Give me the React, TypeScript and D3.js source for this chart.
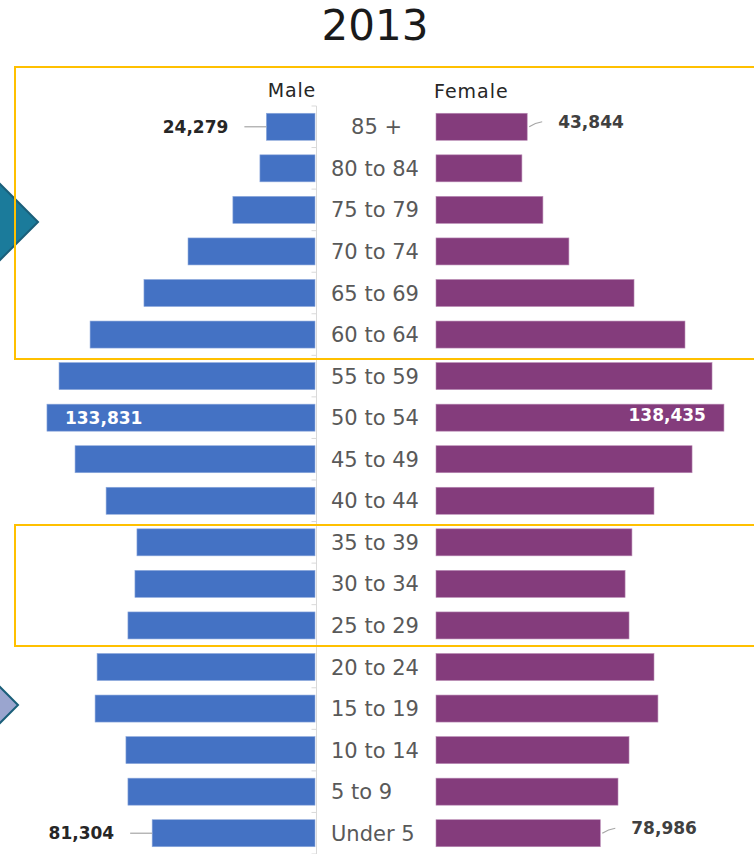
import * as d3 from 'd3';

const categories = [
    '   85 +', '80 to 84', '75 to 79', '70 to 74', '65 to 69', '60 to 64',
    '55 to 59', '50 to 54', '45 to 49', '40 to 44', '35 to 39', '30 to 34',
    '25 to 29', '20 to 24', '15 to 19', '10 to 14', '5 to 9', 'Under 5'
];
const male = [
    24279, 27500, 41000, 63400, 85400, 112300, 127800, 133831, 119800,
    104300, 88900, 89900, 93400, 108800, 109800, 94400, 93400, 81304
];
const female = [
    43844, 41300, 51400, 63900, 95200, 119700, 132700, 138435, 123100,
    104800, 94200, 90900, 92800, 104800, 106700, 92800, 87500, 78986
];
// which bars carry a value label, and where
const maleLabels = [{ i: 0, inside: false }, { i: 7, inside: true }, { i: 17, inside: false }];
const femaleLabels = [{ i: 0, inside: false }, { i: 7, inside: true }, { i: 17, inside: false }];

const width = 754;
const height = 854;
const axisX = 316.5;
const maleRight = 315;
const femaleLeft = 436;

const fmt = d3.format(',');

const App = () => {
    const y = d3.scaleBand<string>()
        .domain(categories)
        .range([106, 854])
        .paddingInner(0.35)
        .paddingOuter(0.175);
    const xMale = d3.scaleLinear().domain([0, 140000]).range([0, 280.4]);
    const xFemale = d3.scaleLinear().domain([0, 140000]).range([0, 291.2]);
    const bw = y.bandwidth();
    const step = y.step();
    const mid = (c: string) => (y(c) || 0) + bw / 2;

    const maleBars = categories.map((c, i) => (
        <rect key={'m' + c} x={maleRight - xMale(male[i])} y={y(c)} width={xMale(male[i])} height={bw}
            fill="#4472C4" stroke="#8ea9dc" strokeWidth={0.6} />
    ));
    const femaleBars = categories.map((c, i) => (
        <rect key={'f' + c} x={femaleLeft} y={y(c)} width={xFemale(female[i])} height={bw}
            fill="#843C7C" stroke="#b98ab4" strokeWidth={0.6} />
    ));

    const catLabels = categories.map((c) => (
        <text key={'c' + c} x={331} y={mid(c)} dy="0.36em"
            style={{ font: '21px "DejaVu Sans"', fill: '#595959', whiteSpace: 'pre' }}>
            {c}
        </text>
    ));

    // axis line with ticks on band boundaries
    const ticks = d3.range(categories.length + 1).map((k) => {
        const ty = 106 + k * step;
        return <line key={'t' + k} x1={axisX - 5} x2={axisX} y1={ty} y2={ty} stroke="#d9d9d9" />;
    });

    const maleValueLabels = maleLabels.map(({ i, inside }) => {
        const c = categories[i];
        const end = maleRight - xMale(male[i]);
        if (inside) {
            return (
                <text key={'ml' + i} x={end + 18} y={mid(c)} dy="0.36em"
                    style={{ font: 'bold 17px "DejaVu Sans"', fill: 'white' }}>{fmt(male[i])}</text>
            );
        }
        return (
            <g key={'ml' + i}>
                <line x1={end - 22} x2={end} y1={mid(c)} y2={mid(c)} stroke="#a6a6a6" strokeWidth={1.2} />
                <text x={end - 38} y={mid(c)} dy="0.36em" textAnchor="end"
                    style={{ font: 'bold 17px "DejaVu Sans"', fill: '#262626' }}>{fmt(male[i])}</text>
            </g>
        );
    });

    const femaleValueLabels = femaleLabels.map(({ i, inside }) => {
        const c = categories[i];
        const end = femaleLeft + xFemale(female[i]);
        if (inside) {
            return (
                <text key={'fl' + i} x={end - 18} y={mid(c) - 3} dy="0.36em" textAnchor="end"
                    style={{ font: 'bold 17px "DejaVu Sans"', fill: 'white' }}>{fmt(female[i])}</text>
            );
        }
        return (
            <g key={'fl' + i}>
                <path d={`M${end + 2},${mid(c)} Q${end + 8},${mid(c) - 4} ${end + 15},${mid(c) - 5}`}
                    fill="none" stroke="#a6a6a6" strokeWidth={1.2} />
                <text x={end + 31} y={mid(c) - 5} dy="0.36em"
                    style={{ font: 'bold 17px "DejaVu Sans"', fill: '#404040' }}>{fmt(female[i])}</text>
            </g>
        );
    });

    return (
        <svg width={width} height={height} style={{ position: 'absolute', left: 0, top: 0, background: 'white' }}>
            <text x={375} y={40} textAnchor="middle" style={{ font: '42px "DejaVu Sans"', fill: '#1a1a1a' }}>2013</text>

            {/* side arrows */}
            <polygon points="38,222 0,184 -38,222 0,260" fill="#1b7b9b" stroke="#1b5f7a" strokeWidth={2} />
            <polygon points="18,705 -20,667 -58,705 -20,743" fill="#9aa5cf" stroke="#1b5f7a" strokeWidth={2} />

            <line x1={axisX} x2={axisX} y1={106} y2={854} stroke="#d9d9d9" />
            {ticks}
            {maleBars}
            {femaleBars}
            {catLabels}
            {maleValueLabels}
            {femaleValueLabels}

            <text x={316} y={97} textAnchor="end" letterSpacing={0.8}
                style={{ font: '19px "DejaVu Sans"', fill: '#262626' }}>Male</text>
            <text x={434} y={98} letterSpacing={1}
                style={{ font: '19px "DejaVu Sans"', fill: '#262626' }}>Female</text>

            {/* highlight boxes */}
            <rect x={15} y={67} width={760} height={292} fill="none" stroke="#FFC000" strokeWidth={2} />
            <rect x={15} y={525} width={760} height={121} fill="none" stroke="#FFC000" strokeWidth={2} />
        </svg>
    );
};

export default App;
